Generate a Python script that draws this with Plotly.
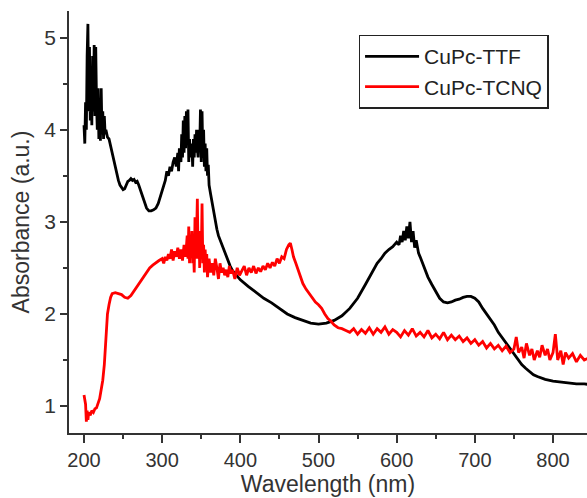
import plotly.graph_objects as go

# CuPc-TTF (black)
ttf_x = [200,201,202,203,204,205,206,207,208,209,210,211,212,213,214,215,216,217,218,219,
         220,221,222,223,224,225,226,227,228,230,232,234,236,238,240,242,244,246,248,250,
         252,254,256,258,260,262,264,266,268,270,272,274,276,278,280,283,286,289,292,295,
         298,300,302,304,306,308,310,312,314,316,318,320,321,322,324,325,326,327,328,329,
         330,331,332,333,334,335,336,338,339,340,341,342,343,344,345,346,347,348,349,350,
         351,352,353,354,355,356,357,358,359,360,362,364,366,368,370,372,375,378,381,384,
         387,390,395,400,410,420,430,440,450,460,470,480,490,500,510,520,530,540,550,560,
         570,575,580,585,590,595,600,603,605,607,609,611,613,615,617,619,621,623,625,628,
         630,633,636,640,645,650,655,660,665,670,675,680,685,690,695,700,705,710,715,720,
         725,730,735,740,745,750,755,760,765,770,775,780,790,800,810,820,830,840,850]
ttf_y = [4.05,3.85,4.3,4.0,4.8,5.15,4.2,4.9,4.1,4.6,4.05,4.8,4.2,4.92,4.15,4.9,4.3,4.0,4.45,3.9,
         4.3,3.88,4.45,3.95,4.2,3.9,4.15,3.95,4.0,3.92,3.9,3.82,3.75,3.68,3.6,3.52,3.45,3.4,3.38,3.35,
         3.36,3.4,3.44,3.45,3.47,3.45,3.46,3.43,3.44,3.4,3.35,3.3,3.25,3.2,3.15,3.12,3.12,3.13,3.15,3.2,
         3.28,3.32,3.4,3.45,3.55,3.5,3.6,3.55,3.65,3.7,3.6,3.75,3.55,3.8,3.65,3.95,3.7,4.1,3.75,4.15,
         3.8,4.2,3.9,4.22,3.65,3.9,3.7,3.85,3.6,3.9,3.7,3.95,3.75,4.0,3.8,3.7,4.0,3.8,4.22,3.65,
         4.2,3.7,4.0,3.6,3.85,3.55,3.8,3.5,3.62,3.4,3.3,3.2,3.1,3.0,2.92,2.85,2.78,2.72,2.65,2.58,
         2.52,2.47,2.42,2.37,2.3,2.23,2.17,2.12,2.06,2.0,1.96,1.93,1.9,1.89,1.9,1.93,1.98,2.06,2.17,2.32,
         2.47,2.55,2.6,2.66,2.7,2.73,2.78,2.75,2.85,2.78,2.9,2.8,2.95,2.82,3.0,2.78,2.9,2.72,2.8,2.66,
         2.62,2.55,2.5,2.4,2.32,2.25,2.17,2.13,2.12,2.13,2.15,2.16,2.18,2.19,2.19,2.17,2.13,2.06,2.0,1.94,
         1.88,1.8,1.74,1.68,1.62,1.56,1.5,1.45,1.41,1.37,1.34,1.32,1.29,1.27,1.26,1.25,1.24,1.24,1.23]

# CuPc-TCNQ (red)
tcnq_x = [200,202,203,204,205,206,208,210,212,214,216,218,220,222,224,226,227,228,229,230,
          232,234,236,240,244,248,252,256,260,264,268,272,276,280,284,288,292,296,300,302,
          304,306,308,310,312,314,316,318,320,322,324,326,328,330,332,333,334,335,336,337,
          338,339,340,341,342,343,344,345,346,347,348,349,350,351,352,353,354,355,356,357,
          358,360,362,364,366,368,370,372,374,376,378,380,382,384,386,388,390,393,396,399,
          402,405,408,411,414,417,420,423,426,429,432,435,438,441,444,447,450,453,456,459,
          462,464,466,468,471,474,477,480,484,488,492,496,500,504,508,512,516,520,525,530,
          535,540,545,550,555,560,565,570,575,580,585,590,595,600,605,610,615,620,625,630,
          635,640,645,650,655,660,665,670,675,680,685,690,695,700,705,710,715,720,725,730,
          735,740,745,750,753,756,760,763,766,770,773,776,780,783,786,790,793,796,800,803,
          806,810,813,816,820,825,830,835,840,845,850]
tcnq_y = [1.12,1.02,0.83,0.95,0.85,0.93,0.9,0.95,0.93,0.97,0.98,1.03,1.08,1.18,1.28,1.45,1.6,1.75,1.9,2.0,
          2.1,2.18,2.22,2.23,2.22,2.21,2.18,2.17,2.2,2.25,2.3,2.35,2.4,2.45,2.5,2.53,2.56,2.58,2.6,2.55,
          2.62,2.58,2.65,2.6,2.7,2.58,2.68,2.62,2.72,2.6,2.7,2.58,2.75,2.62,2.85,2.6,2.95,2.55,2.8,2.65,
          2.9,2.55,2.7,2.45,3.05,2.6,2.85,3.25,2.6,2.9,2.5,2.8,2.6,3.2,2.55,2.75,2.45,2.7,2.5,2.65,
          2.4,2.6,2.45,2.55,2.42,2.6,2.5,2.38,2.55,2.45,2.5,2.42,2.48,2.4,2.52,2.44,2.48,2.38,2.5,2.42,
          2.47,2.52,2.42,2.5,2.45,2.52,2.44,2.5,2.46,2.52,2.48,2.55,2.5,2.56,2.52,2.6,2.55,2.62,2.6,2.7,
          2.75,2.77,2.7,2.62,2.55,2.48,2.4,2.33,2.27,2.22,2.17,2.13,2.1,2.06,2.0,1.95,1.92,1.88,1.85,1.84,
          1.82,1.8,1.84,1.78,1.83,1.79,1.85,1.78,1.84,1.8,1.86,1.78,1.83,1.8,1.75,1.82,1.77,1.84,1.76,1.8,
          1.75,1.82,1.74,1.78,1.73,1.8,1.72,1.77,1.72,1.76,1.7,1.74,1.68,1.72,1.66,1.7,1.63,1.68,1.62,1.66,
          1.6,1.65,1.58,1.62,1.75,1.58,1.64,1.52,1.68,1.55,1.62,1.5,1.6,1.53,1.66,1.55,1.62,1.5,1.58,1.78,
          1.5,1.6,1.45,1.58,1.52,1.57,1.48,1.55,1.5,1.52,1.5]

x_range = [180.8, 843.5]
y_range = [0.707, 5.29]
x_major = [200, 300, 400, 500, 600, 700, 800]
y_major = [1, 2, 3, 4, 5]

FONT = "Liberation Sans, Arial, sans-serif"
AX = "#333333"

fig = go.Figure()
fig.add_trace(go.Scatter(x=ttf_x, y=ttf_y, mode="lines", name="CuPc-TTF",
                         line=dict(color="black", width=2.8)))
fig.add_trace(go.Scatter(x=tcnq_x, y=tcnq_y, mode="lines", name="CuPc-TCNQ",
                         line=dict(color="#ff0000", width=2.8)))

fig.update_layout(
    width=587, height=498,
    margin=dict(l=69, r=0, t=11, b=65),
    paper_bgcolor="white", plot_bgcolor="white",
    font=dict(family=FONT, size=20, color=AX),
    showlegend=True,
    legend=dict(x=0.559, y=0.944, xanchor="left", yanchor="top",
                bordercolor="#222222", borderwidth=1.5, bgcolor="white",
                font=dict(family=FONT, size=21, color="#222222"),
                tracegroupgap=0, itemwidth=54),
    xaxis=dict(range=x_range, tickvals=x_major, ticks="outside", ticklen=8, tickwidth=1.5,
               tickcolor=AX, showline=True, linecolor=AX, linewidth=1.8, mirror=False,
               showgrid=False, zeroline=False,
               minor=dict(ticks="outside", ticklen=4, tickwidth=1.5, tickcolor=AX, dtick=50, tick0=200, showgrid=False),
               title=dict(text="Wavelength (nm)", font=dict(size=23), standoff=3),
               tickfont=dict(size=20)),
    yaxis=dict(range=y_range, tickvals=y_major, ticks="outside", ticklen=7, tickwidth=1.5,
               tickcolor=AX, showline=True, linecolor=AX, linewidth=1.8, mirror=False,
               showgrid=False, zeroline=False,
               minor=dict(ticks="outside", ticklen=4, tickwidth=1.5, tickcolor=AX, dtick=0.5, tick0=1, showgrid=False),
               title=dict(text="Absorbance (a.u.)", font=dict(size=23), standoff=8),
               tickfont=dict(size=21)),
    xaxis2=dict(overlaying="x", side="top", range=x_range, showline=True, linecolor=AX, linewidth=1.8,
                tick0=315.1, dtick=133.3, ticks="inside", ticklen=7, tickwidth=1.5, tickcolor=AX,
                minor=dict(ticks="inside", ticklen=4, tickwidth=1.5, tickcolor=AX, dtick=66.65, tick0=248.45),
                showticklabels=False, showgrid=False, zeroline=False),
    yaxis2=dict(overlaying="y", side="right", range=y_range, showline=False,
                tick0=4.38, dtick=0.916, ticks="inside", ticklen=4, tickwidth=1.5, tickcolor=AX,
                showticklabels=False, showgrid=False, zeroline=False),
)

fig.write_html("out.html")
